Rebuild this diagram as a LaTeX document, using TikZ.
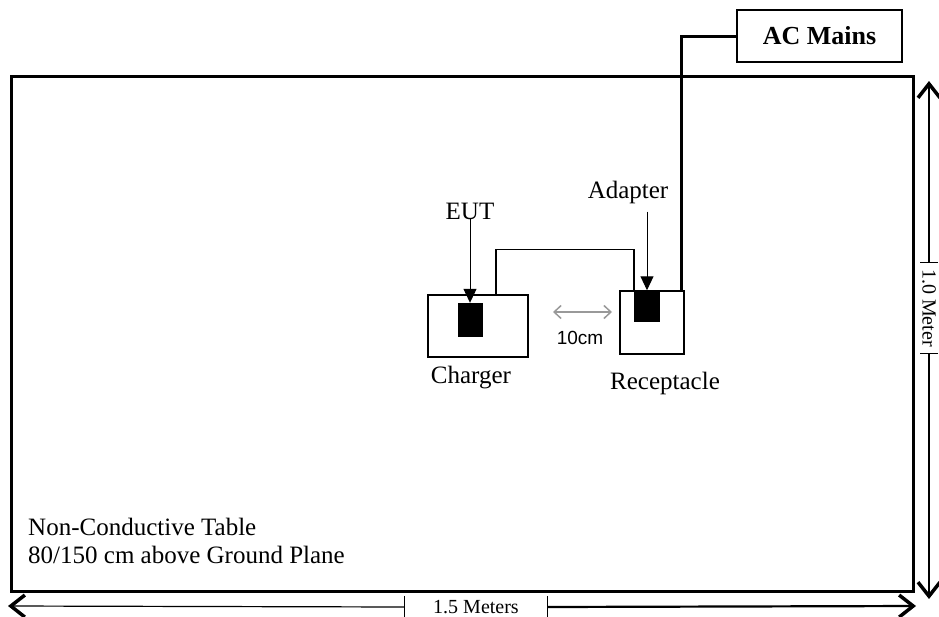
\documentclass[tikz,border=0pt]{standalone}
\usepackage{fontspec}
\setmainfont{Liberation Serif}
\setsansfont{Liberation Sans}
\usepackage{xcolor}
\usetikzlibrary{arrows.meta,positioning,calc}
\tikzset{
  tablebox/.style={rectangle, draw=black, line width=3pt, inner sep=0pt},
  devbox/.style={rectangle, draw=black, line width=1.5pt, inner sep=0pt},
  plug/.style={rectangle, fill=black, inner sep=0pt},
  lbl/.style={inner sep=0pt, font=\fontsize{25}{28}\selectfont},
  ptr/.style={-{Triangle[length=14pt, width=13pt]}, line width=1pt},
  dimar/.style={-{Straight Barb[length=14pt, width=22pt, line width=3.5pt]}, line width=1.2pt}
}
\begin{document}
\begin{tikzpicture}[
  x=1pt, y=-1pt,
  wire/.style={line width=1.5pt},
  mains/.style={line width=3pt},
  dimlbl/.style={rectangle, fill=white, inner sep=0pt, font=\fontsize{20}{24}\selectfont},
  gaps/.style={{Straight Barb[length=7pt, width=13pt]}-{Straight Barb[length=7pt, width=13pt]},
               draw=black!40, line width=1.5pt}
]
\useasboundingbox (0,0) rectangle (939,616);
% ---- table ----
\node[tablebox, minimum width=902pt, minimum height=515pt, anchor=north west] (tbl) at (10,75) {};
\node[lbl, align=left, anchor=base west] (tbltxt) at (28,563)
  {Non-Conductive Table\\80/150 cm above Ground Plane};
% ---- charger and EUT ----
\node[devbox, minimum width=100pt, minimum height=62pt] (chg) at (478,326) {};
\node[plug, minimum width=25pt, minimum height=34pt] (eutblk) at (470.5,320) {};
\node[lbl, anchor=base] (eut) at (470,219) {EUT};
\node[lbl, anchor=base] (chgtxt) at (471,383) {Charger};
% ---- receptacle and adapter ----
\node[devbox, minimum width=64pt, minimum height=63pt] (rec) at (652,322.5) {};
\node[plug, minimum width=26pt, minimum height=32pt, anchor=north] (adpblk) at (rec.north -| 647,0) {};
\node[lbl, anchor=base] (adp) at (628,198) {Adapter};
\node[lbl, anchor=base] (rectxt) at (665,389) {Receptacle};
% ---- AC mains ----
\node[devbox, minimum width=165pt, minimum height=52pt,
      font=\fontsize{26}{30}\selectfont\bfseries] (acm) at (819.5,36) {AC Mains};
% ---- wires ----
\draw[wire] ([xshift=18pt]chg.north) |- ([yshift=41pt]adpblk.north west) -- (adpblk.north west);
\draw[mains] ([xshift=-3pt]rec.north east) |- (acm.west);
% ---- pointers ----
\draw[ptr] (eut.south) -- (eut.south |- eutblk.north);
\draw[ptr] ([yshift=-8pt]adp.south -| adpblk.north) -- (adpblk.north);
% ---- 10cm gap ----
\node[inner sep=0pt, anchor=base, font=\sffamily\fontsize{19}{22}\selectfont] (gap) at (580,344) {10cm};
\coordinate (g1) at (553,312);
\coordinate (g2) at (612,312);
\draw[gaps] (g1) -- (g2);
% ---- 1.5 Meters ----
\coordinate (bl) at (8,606);
\coordinate (br) at (916,606);
\node[dimlbl, minimum width=142pt, minimum height=22pt] (hlbl) at (476,607) {1.5 Meters};
\draw[dimar, line width=1.2pt] (hlbl.west) -- (bl);
\draw[dimar, line width=2.2pt] (hlbl.east) -- (br);
\draw[line width=1.2pt] (hlbl.north west) -- (hlbl.south west);
\draw[line width=1.2pt] (hlbl.north east) -- (hlbl.south east);
% ---- 1.0 Meter ----
\coordinate (vt) at (929,81);
\coordinate (vb) at (929,599);
\node[dimlbl, rotate=-90, minimum width=90pt, minimum height=18pt] (vlbl) at (929,308) {1.0 Meter};
\draw[dimar] (vlbl.west) -- (vt);
\draw[dimar] (vlbl.east) -- (vb);
\draw[line width=1.2pt] (vlbl.north west) -- (vlbl.south west);
\draw[line width=1.2pt] (vlbl.north east) -- (vlbl.south east);
\end{tikzpicture}
\end{document}
